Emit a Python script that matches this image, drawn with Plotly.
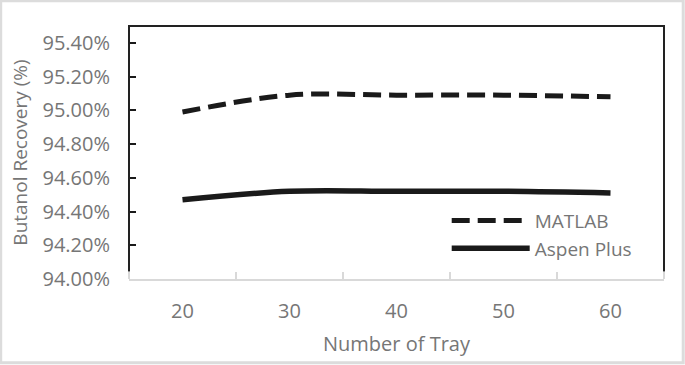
import plotly.graph_objects as go

trays = [20, 30, 40, 50, 60]
matlab = [0.9499, 0.9509, 0.9509, 0.9509, 0.9508]
aspen = [0.9447, 0.9452, 0.9452, 0.9452, 0.9451]
x_ticks = [20, 30, 40, 50, 60]
x_minor = [15, 25, 35, 45, 55, 65]

FONT = "Open Sans"
GREY_TXT = "#767676"

fig = go.Figure()
fig.add_trace(go.Scatter(x=trays, y=matlab, name="MATLAB", mode="lines",
                         line=dict(color="#1a1a1a", width=5, dash="18px,8px",
                                   shape="spline", smoothing=1)))
fig.add_trace(go.Scatter(x=trays, y=aspen, name="Aspen Plus", mode="lines",
                         line=dict(color="#1a1a1a", width=5.5,
                                   shape="spline", smoothing=1)))

L, R, T, B = 129.3, 685 - 664.3, 25.8, 365 - 279.5
PW = 685 - L - R
PH = 365 - T - B

def px_x(p):
    return (p - L) / PW

def px_y(p):
    return (365 - B - p) / PH

fig.update_layout(
    width=685, height=365,
    margin=dict(l=L, r=R, t=T, b=B, pad=0, autoexpand=False),
    paper_bgcolor="white", plot_bgcolor="white",
    font=dict(family=FONT, size=20, color=GREY_TXT),
    showlegend=True,
    legend=dict(x=px_x(447), y=px_y(202), xanchor="left", yanchor="top",
                bgcolor="rgba(0,0,0,0)", font=dict(size=19, color=GREY_TXT),
                itemwidth=78, tracegroupgap=0),
    xaxis=dict(range=[15, 65], tickmode="array", tickvals=x_ticks,
               ticks="", showgrid=False, zeroline=False, automargin=False,
               showline=True, linecolor="#d9d9d9", linewidth=2,
               ticklabelstandoff=13,
               minor=dict(tickmode="array", tickvals=x_minor, ticks="inside",
                          ticklen=7, tickcolor="#d9d9d9", tickwidth=1.5),
               title=dict(text="Number of Tray", standoff=14,
                          font=dict(size=20, color=GREY_TXT))),
    yaxis=dict(range=[0.94, 0.955], tickmode="linear", tick0=0.94, dtick=0.002,
               tickformat=".2%", ticks="inside", ticklen=7, tickwidth=2,
               tickcolor="#1a1a1a", showgrid=False, zeroline=False,
               showline=False, ticklabelstandoff=18, automargin=False,
               title=dict(text="Butanol Recovery (%)", standoff=9,
                          font=dict(size=19, color=GREY_TXT))),
    shapes=[
        dict(type="path", xref="paper", yref="paper",
             path=f"M 0 {px_y(272)} L 0 1 L 1 1 L 1 {px_y(272)}",
             line=dict(color="#222222", width=2)),
        dict(type="rect", xref="paper", yref="paper",
             x0=px_x(1), x1=px_x(683.5), y0=px_y(363.5), y1=px_y(0.5),
             line=dict(color="#dcdcdc", width=3)),
    ],
)

fig.write_html("out.html",
               config={"displayModeBar": False},
               post_script="document.body.style.margin='0';"
                           "document.body.style.overflow='hidden';")
